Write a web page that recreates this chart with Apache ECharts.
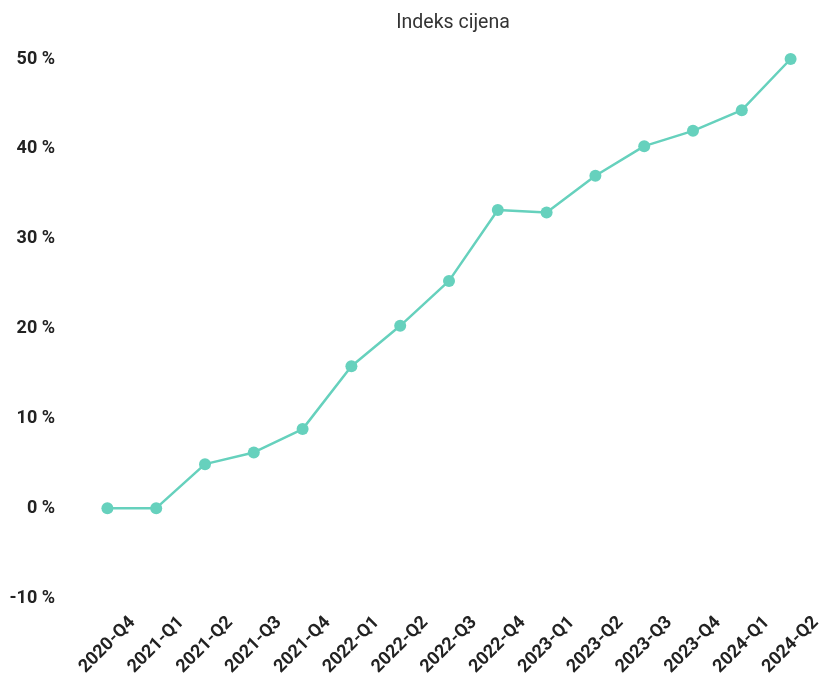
<!DOCTYPE html>
<html>
<head>
<meta charset="utf-8">
<script src="https://cdn.jsdelivr.net/npm/echarts@6/dist/echarts.min.js"></script>
<style>
  html, body { margin: 0; padding: 0; background: #fff; }
  #chart { width: 820px; height: 681px; }
</style>
</head>
<body>
<div id="chart"></div>
<script>
const quarters = ['2020-Q4', '2021-Q1', '2021-Q2', '2021-Q3', '2021-Q4', '2022-Q1', '2022-Q2',
  '2022-Q3', '2022-Q4', '2023-Q1', '2023-Q2', '2023-Q3', '2023-Q4', '2024-Q1', '2024-Q2'];
const indexValues = [0, 0, 4.9, 6.2, 8.8, 15.8, 20.3, 25.3, 33.2, 32.9, 37.0, 40.3, 42.0, 44.3, 50.0];

const chart = echarts.init(document.getElementById('chart'));
chart.setOption({
  animation: false,
  textStyle: { fontFamily: 'Roboto' },
  title: {
    text: 'Indeks cijena',
    left: 448,
    textAlign: 'center',
    top: 8,
    textStyle: { fontFamily: 'Roboto', fontSize: 19.5, fontWeight: 'normal', color: '#333' }
  },
  grid: { left: 83, right: 5, top: 59, bottom: 83, outerBoundsMode: 'none', containLabel: false },
  xAxis: {
    type: 'category',
    data: quarters,
    axisLine: { show: false },
    axisTick: { show: false },
    axisLabel: {
      rotate: 45,
      align: 'center',
      verticalAlign: 'middle',
      margin: 47,
      fontSize: 18,
      fontWeight: 'bold',
      color: '#222',
      interval: 0
    }
  },
  yAxis: {
    type: 'value',
    min: -10,
    max: 50,
    interval: 10,
    splitLine: { show: false },
    axisLine: { show: false },
    axisTick: { show: false },
    axisLabel: {
      formatter: '{value} %',
      margin: 28,
      fontSize: 18,
      fontWeight: 'bold',
      color: '#222'
    }
  },
  series: [{
    type: 'line',
    data: indexValues,
    symbol: 'circle',
    symbolSize: 12,
    itemStyle: { color: '#66d1bd' },
    lineStyle: { color: '#66d1bd', width: 2.5 }
  }]
});
</script>
</body>
</html>
